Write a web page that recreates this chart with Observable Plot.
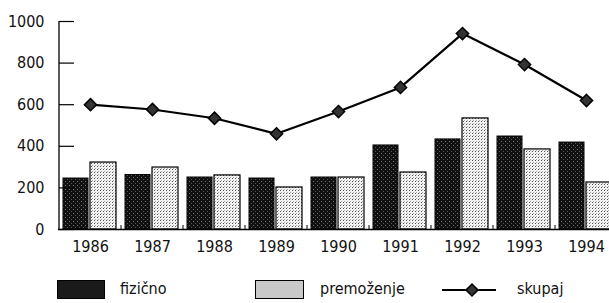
<!DOCTYPE html>
<html><head><meta charset="utf-8">
<script src="https://cdn.jsdelivr.net/npm/d3@7"></script>
<script src="https://cdn.jsdelivr.net/npm/@observablehq/plot@0.6"></script>
<style>
body{margin:0;background:#fff;font-family:"Liberation Sans Narrow","DejaVu Sans Condensed",sans-serif;}
#wrap{position:relative;width:609px;height:303px;overflow:hidden;}
.lg{position:absolute;font-size:16px;color:#111;}
.sw{position:absolute;top:280px;width:48px;height:19px;box-sizing:border-box;}
</style></head>
<body><div id="wrap"></div>
<script>
const years = ["1986","1987","1988","1989","1990","1991","1992","1993","1994"];
const fizicno = [245, 262, 250, 245, 250, 404, 433, 447, 418];
const premozenje = [322, 298, 260, 202, 250, 274, 534, 385, 226];
const skupaj = [600, 577, 535, 460, 567, 683, 942, 793, 620];
const yTicks = [0, 200, 400, 600, 800, 1000];
const labels = ["fizično", "premoženje", "skupaj"];

const rows = years.map((y, i) => ({year: y, f: fizicno[i], p: premozenje[i], s: skupaj[i]}));
const font = '"Liberation Sans Narrow","DejaVu Sans Condensed",sans-serif';

const chart = Plot.plot({
  width: 609, height: 262,
  marginLeft: 58, marginRight: 0, marginTop: 21, marginBottom: 33,
  style: {fontFamily: font, fontSize: "16px", color: "#111", background: "transparent", overflow: "visible"},
  x: {type: "band", domain: years, range: [58, 617], paddingInner: 0, paddingOuter: 0, label: null},
  y: {domain: [0, 1000], label: null},
  marks: [
    Plot.barY(rows, {x: "year", y: "f", fill: "url(#patDark)", stroke: "#000", strokeWidth: 1, insetLeft: 4, insetRight: 33}),
    Plot.barY(rows, {x: "year", y: "p", fill: "url(#patLight)", stroke: "#000", strokeWidth: 1.2, insetLeft: 31, insetRight: 5}),
    Plot.ruleY([0], {stroke: "#000", strokeWidth: 1.5}),
    Plot.lineY(rows, {x: "year", y: "s", stroke: "#000", strokeWidth: 2.2}),
    Plot.dot(rows, {x: "year", y: "s", symbol: "diamond2", r: 5.5, fill: "#333", stroke: "#000", strokeWidth: 1.5}),
    Plot.axisY({ticks: yTicks, tickSize: 0, tickPadding: 14, tickFormat: d => String(d), fontSize: 16}),
    Plot.axisX({tickSize: 0, tickPadding: 11, fontSize: 16})
  ]
});
const NS = "http://www.w3.org/2000/svg";
const defs = document.createElementNS(NS, "defs");
function mkPattern(id, size, bg, dots) {
  const p = document.createElementNS(NS, "pattern");
  p.setAttribute("id", id); p.setAttribute("width", size); p.setAttribute("height", size);
  p.setAttribute("patternUnits", "userSpaceOnUse");
  const r = document.createElementNS(NS, "rect");
  r.setAttribute("width", size); r.setAttribute("height", size); r.setAttribute("fill", bg);
  p.appendChild(r);
  for (const [x, y, c] of dots) {
    const d = document.createElementNS(NS, "rect");
    d.setAttribute("x", x); d.setAttribute("y", y); d.setAttribute("width", 1); d.setAttribute("height", 1); d.setAttribute("fill", c);
    p.appendChild(d);
  }
  defs.appendChild(p);
}
mkPattern("patDark", 4, "#111", [[1, 1, "#777"], [3, 3, "#555"]]);
mkPattern("patLight", 3, "#f2f2f2", [[1, 1, "#555"], [2, 0, "#aaa"]]);
chart.appendChild(defs);

// axis line, inward y ticks and group separators, positioned with Plot's own scales
const xs = chart.scale("x"), ys = chart.scale("y");
const x0 = xs.apply(years[0]);
const bw = xs.bandwidth;
const g = d3.select(chart).append("g").attr("stroke", "#000").attr("fill", "none");
g.append("line").attr("x1", x0).attr("x2", x0).attr("y1", ys.apply(0)).attr("y2", ys.apply(1000)).attr("stroke-width", 1.3);
g.selectAll(".yt").data(yTicks).join("line").attr("class", "yt")
  .attr("x1", x0).attr("x2", x0 + 15)
  .attr("y1", d => ys.apply(d) + 0.5).attr("y2", d => ys.apply(d) + 0.5).attr("stroke-width", 1.2);
g.selectAll(".xt").data(years.slice(1)).join("line").attr("class", "xt")
  .attr("x1", d => xs.apply(d)).attr("x2", d => xs.apply(d))
  .attr("y1", ys.apply(0)).attr("y2", ys.apply(0) - 4).attr("stroke-width", 1);

const wrap = document.getElementById("wrap");
wrap.appendChild(chart);

wrap.insertAdjacentHTML("beforeend", `
<div class="sw" style="left:57px;background:#1a1a1a;border:1px solid #000"></div>
<div class="lg" style="left:120px;top:279px">${labels[0]}</div>
<div class="sw" style="left:255px;width:49px;background:#c9c9c9;border:1px solid #000"></div>
<div class="lg" style="left:320px;top:279px">${labels[1]}</div>
<svg style="position:absolute;left:440px;top:280px" width="60" height="20"><line x1="2" y1="10" x2="56" y2="10" stroke="#000" stroke-width="2"/><path d="M32,4L38,10L32,16L26,10Z" fill="#333" stroke="#000" stroke-width="1.5"/></svg>
<div class="lg" style="left:517px;top:279px">${labels[2]}</div>`);
</script>
</body></html>
